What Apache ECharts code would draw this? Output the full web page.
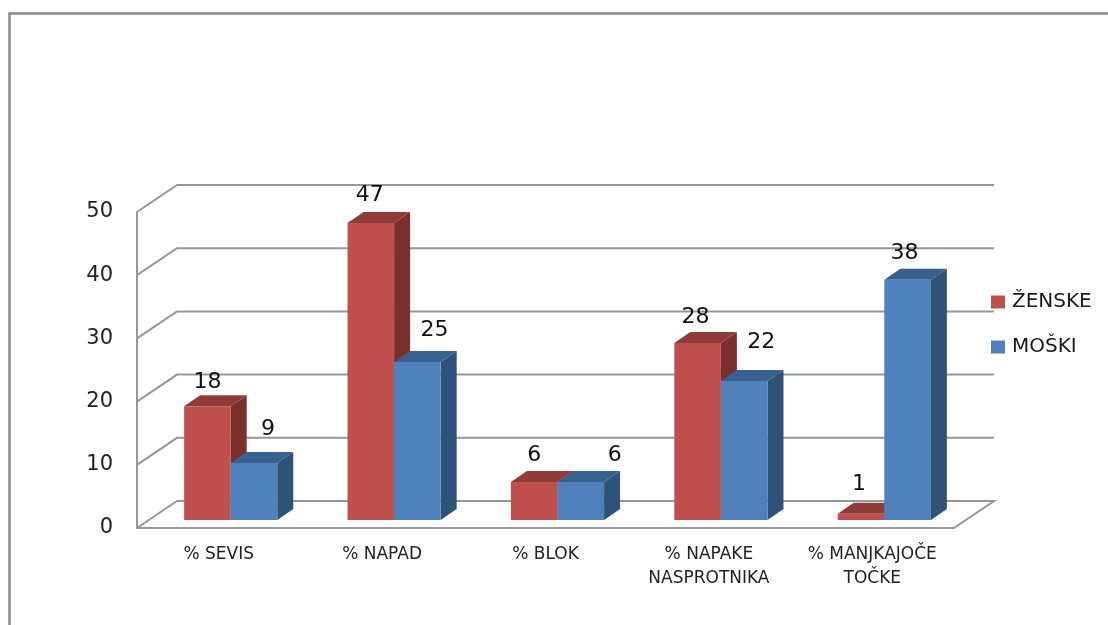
<!DOCTYPE html>
<html><head><meta charset="utf-8">
<style>html,body{margin:0;padding:0;background:#fff}#c{width:1108px;height:625px}</style>
<script src="https://cdn.jsdelivr.net/npm/echarts@6/dist/echarts.min.js"></script>
</head><body><div id="c"></div>
<script>
const categories = ['% SEVIS', '% NAPAD', '% BLOK', '% NAPAKE\nNASPROTNIKA', '% MANJKAJOČE\nTOČKE'];
const zenske = [18, 47, 6, 28, 1];
const moski = [9, 25, 6, 22, 38];
const yTicks = [0, 10, 20, 30, 40, 50];

// Oblique projection used to fake the 3D look (style, not data)
const WALL = {dx: 40, dy: -27};
const BAR = {dx: 16, dy: -11, midX: 12, midY: -8, widthRatio: 0.285};
const NUDGE_Z = [[0,-24],[-1,-28],[0,-27],[-2,-26],[-2,-29]];
const NUDGE_M = [[14,-34],[17,-32],[34,-27],[17,-39],[-3,-27]];
const FONT = '"DejaVu Sans"';

function barRender(side, colors, nudges) {
  return function (params, api) {
    const i = api.value(0), v = api.value(1);
    const band = api.size([1, 0])[0];
    const w = band * BAR.widthRatio;
    const c = api.coord([i, v]), o = api.coord([i, 0]);
    const x0 = c[0] + BAR.midX + side * w, x1 = x0 + w;
    const yt = c[1] + BAR.midY, yb = o[1] + BAR.midY;
    const d = BAR.dx, e = BAR.dy;
    return {type: 'group', children: [
      {type: 'polygon', shape: {points: [[x1,yb],[x1+d,yb+e],[x1+d,yt+e],[x1,yt]]}, style: {fill: colors.side}},
      {type: 'polygon', shape: {points: [[x0,yt],[x0+d,yt+e],[x1+d,yt+e],[x1,yt]]}, style: {fill: colors.top}},
      {type: 'rect', shape: {x: x0, y: yt, width: w, height: yb - yt}, style: {fill: colors.front}},
      {type: 'text', style: {text: String(v), x: (x0+x1)/2 + nudges[i][0], y: yt + nudges[i][1],
        align: 'center', verticalAlign: 'middle', font: '22px ' + FONT, fill: '#111'}}
    ]};
  };
}

function gridRender(params, api) {
  const v = api.value(0);
  const p = api.coord([0, v]);
  const cs = params.coordSys;
  const x = cs.x, r = cs.x + cs.width, y = p[1];
  const pts = [[x, y], [x + WALL.dx, y + WALL.dy], [r + WALL.dx, y + WALL.dy]];
  if (v === 0) pts.push([r, y]);
  return {type: 'polyline', shape: {points: pts}, style: {fill: null, stroke: '#979797', lineWidth: 2}};
}

const RED = {front: '#C0504D', side: '#7C302E', top: '#8F3B39'};
const BLUE = {front: '#4F81BD', side: '#2F5279', top: '#39618F'};

const chart = echarts.init(document.getElementById('c'), null, {renderer: 'canvas'});
chart.setOption({
  animation: false,
  backgroundColor: '#fff',
  graphic: [{type: 'rect', shape: {x: 9.5, y: 13.5, width: 1300, height: 900},
    style: {fill: null, stroke: '#8a8a8a', lineWidth: 2.5}, silent: true, z: 0}],
  legend: {
    orient: 'vertical', left: 986, top: 287, itemWidth: 14, itemHeight: 13, itemGap: 25,
    icon: 'rect', data: ['ŽENSKE', 'MOŠKI'],
    textStyle: {fontFamily: FONT, fontSize: 20, color: '#1a1a1a', padding: [0, 0, 0, 2]}
  },
  grid: {left: 137, top: 212, width: 817, height: 316},
  xAxis: {
    type: 'category', data: categories,
    axisTick: {show: false},
    axisLine: {lineStyle: {color: '#979797', width: 2}},
    axisLabel: {fontFamily: FONT, fontSize: 17, color: '#222', margin: 15, lineHeight: 24, interval: 0}
  },
  yAxis: {
    type: 'value', min: 0, max: 50, interval: 10,
    splitLine: {show: false}, axisTick: {show: false},
    axisLine: {show: true, lineStyle: {color: '#979797', width: 2}},
    axisLabel: {fontFamily: FONT, fontSize: 21, color: '#222', margin: 24}
  },
  series: [
    {type: 'custom', name: 'grid', renderItem: gridRender, data: yTicks.map(v => [v]), encode: {y: 0}, z: 1, silent: true, clip: false},
    {type: 'custom', name: 'ŽENSKE', renderItem: barRender(-1, RED, NUDGE_Z), data: zenske.map((v, i) => [i, v]),
      encode: {x: 0, y: 1}, itemStyle: {color: RED.front}, z: 2, clip: false},
    {type: 'custom', name: 'MOŠKI', renderItem: barRender(0, BLUE, NUDGE_M), data: moski.map((v, i) => [i, v]),
      encode: {x: 0, y: 1}, itemStyle: {color: BLUE.front}, z: 3, clip: false}
  ]
});
</script></body></html>
